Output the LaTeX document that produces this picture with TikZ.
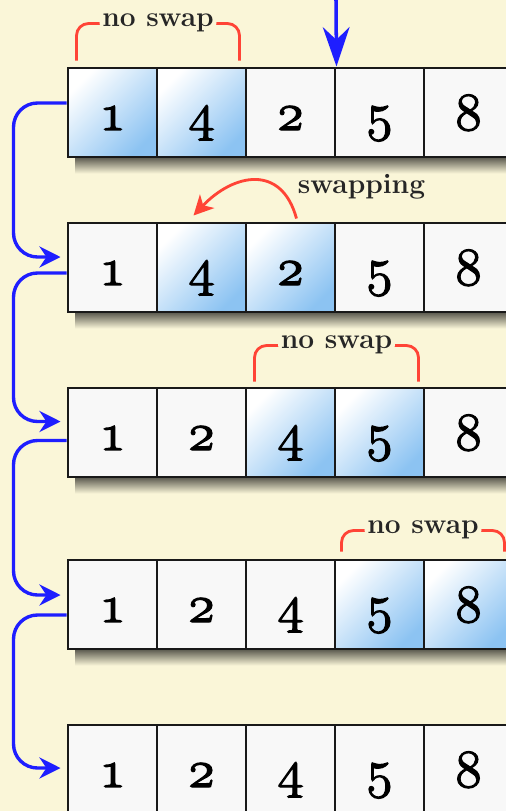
\RequirePackage{fix-cm}
\documentclass[tikz,border=0pt]{standalone}
\usetikzlibrary{arrows.meta, positioning, calc}

\definecolor{bgcream}{HTML}{FAF6D8}
\definecolor{cellwhite}{HTML}{F8F8F8}
\definecolor{hlblue}{HTML}{8CC3F2}
\definecolor{flowblue}{HTML}{1E1EFF}
\definecolor{swapred}{HTML}{FF4436}

% heavier digits: fill and stroke the glyphs
\newcommand{\heavydigit}[1]{\special{pdf:literal direct 2 Tr 0.9 w}\legacyoldstylenums{#1}\special{pdf:literal direct 0 Tr}}

\begin{document}
\begin{tikzpicture}[
    x=0.025cm, y=-0.025cm,
    cell/.style={
        draw=black!90, line width=2.1pt, fill=cellwhite, minimum size=2.225cm, inner sep=0pt,
        text height=0.875cm, text depth=0cm, font=\fontsize{38}{38}\selectfont\bfseries
    },
    hot/.style={cell, top color=white, middle color=hlblue!45!white, bottom color=hlblue, shading angle=45},
    pass/.style={
        -{Stealth[length=15pt, width=15pt, inset=5pt]}, line width=2.4pt, draw=flowblue, rounded corners=0.6cm
    },
    bracket/.style={line width=2pt, draw=swapred, rounded corners=0.3cm},
    note/.style={fill=bgcream, inner sep=2pt, anchor=mid, text=black!85, font=\fontsize{20}{20}\selectfont\bfseries}
]

% PAGE
\useasboundingbox (0,0) rectangle (506,811);
\fill[bgcream] (0,0) rectangle (506,811);

% ROWS (value/highlight)
\foreach \r/\yc/\vals in {
    1/112.5/{1/1,4/1,2/0,5/0,8/0},
    2/267.5/{1/0,4/1,2/1,5/0,8/0},
    3/432.5/{1/0,2/0,4/1,5/1,8/0},
    4/604.5/{1/0,2/0,4/0,5/1,8/1},
    5/769.5/{1/0,2/0,4/0,5/0,8/0}} {
    \shade[top color=black!65!bgcream, bottom color=bgcream] (75,\yc+44.5) rectangle (513,\yc+61);
    \foreach \v/\h [count=\c] in \vals {
        \ifnum\h=1 \def\kind{hot}\else\def\kind{cell}\fi
        \node[\kind] (r\r-\c) at (23.5+89*\c,\yc) {\heavydigit{\v}};
    }
}

% INPUT ARROW
\coordinate (feed) at (336,0);
\draw[line width=2.5pt, flowblue, -{Stealth[length=28pt, width=19pt, inset=9pt]}] (feed) -- (r1-3.north east);

% PASSES DOWN THE LEFT SIDE
\foreach \a/\b/\dy/\ey in {1/2/-9.5/-10.5, 2/3/5.5/-11, 3/4/8/-9.5, 4/5/10.5/-1.5}
    \draw[pass] ($(r\a-1.west)+(0,\dy)$) -- ++(-53,0) |- ($(r\b-1.west)+(-6,\ey)$);

% NO SWAP BRACKETS
\draw[bracket] ($(r1-1.north west)+(10,-6)$) |- node[note, pos=0.75] {no swap}
    ($(r1-2.north east)+(-8,-43)$) -- ($(r1-2.north east)+(-8,-6)$);
\draw[bracket] ($(r3-3.north west)+(10,-5)$) |- node[note, pos=0.75] {no swap}
    ($(r3-4.north east)+(-7,-41)$) -- ($(r3-4.north east)+(-7,-5)$);
\draw[bracket] ($(r4-4.north west)+(8,-7)$) |- node[note, pos=0.75] {no swap}
    ($(r4-5.north east)+(-10,-28)$) -- ($(r4-5.north east)+(-10,-7)$);

% SWAP ARROW
\node[note, fill=none] (swaplabel) at (361.5,190) {swapping};
\draw[line width=2pt, swapred, -{Stealth[length=14pt, width=14pt, inset=4pt]}]
    ($(r2-3.north)+(6,-3)$) .. controls +(-15,-55) and +(40,-42) .. ($(r2-2.north)+(-8,-6)$);

\end{tikzpicture}
\end{document}
